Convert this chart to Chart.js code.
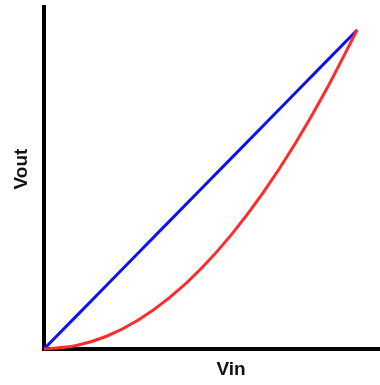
<!DOCTYPE html>
<html>
<head>
<meta charset="utf-8">
<script src="https://cdn.jsdelivr.net/npm/chart.js@4.4.1/dist/chart.umd.min.js"></script>
<style>
  html, body { margin: 0; padding: 0; background: #fff; }
</style>
</head>
<body>
<canvas id="myChart" width="380" height="385"></canvas>
<script>
// input voltage steps (arbitrary units)
const vin = [0, 1, 2, 3, 4, 5, 6, 7, 8, 9, 10];
// linear transfer (blue)
const voutLinear = [0, 10, 20, 30, 40, 50, 60, 70, 80, 90, 100];
// square-law transfer (red)
const voutSquare = [0, 1, 4, 9, 16, 25, 36, 49, 64, 81, 100];

const xTitle = 'Vin';
const yTitle = 'Vout';

// axis names sit a little off-centre in the original, so draw them by hand
const axisNames = {
    id: 'axisNames',
    afterDraw(chart) {
        const c = chart.ctx;
        const area = chart.chartArea;
        c.save();
        c.fillStyle = '#111';
        c.font = 'bold 19px "Liberation Sans", Arial, sans-serif';
        c.textAlign = 'center';
        c.textBaseline = 'middle';
        c.fillText(xTitle, area.left + 187, area.bottom + 21);
        c.translate(area.left - 22, area.top + 162);
        c.rotate(-Math.PI / 2);
        c.fillText(yTitle, 0, 0);
        c.restore();
    }
};

const ctx = document.getElementById('myChart');

new Chart(ctx, {
    type: 'line',
    data: {
        labels: vin,
        datasets: [{
            label: 'square',
            data: vin.map((x, i) => ({ x: x, y: voutSquare[i] })),
            borderColor: '#ff2a2a',
            borderWidth: 3,
            pointRadius: 0,
            cubicInterpolationMode: 'monotone',
            clip: false
        }, {
            label: 'linear',
            data: vin.map((x, i) => ({ x: x, y: voutLinear[i] })),
            borderColor: '#1010f0',
            borderWidth: 3,
            pointRadius: 0,
            clip: false
        }]
    },
    options: {
        responsive: false,
        animation: false,
        layout: {
            padding: { left: 36, top: 7, right: 0, bottom: 28 }
        },
        plugins: {
            legend: { display: false },
            tooltip: { enabled: false }
        },
        scales: {
            x: {
                type: 'linear',
                min: 0,
                max: 10.73,
                grid: { display: false },
                ticks: { display: false },
                border: { display: true, color: '#000', width: 4 }
            },
            y: {
                type: 'linear',
                min: 0,
                max: 107.2,
                grid: { display: false },
                ticks: { display: false },
                border: { display: true, color: '#000', width: 4 }
            }
        }
    },
    plugins: [axisNames]
});
</script>
</body>
</html>
